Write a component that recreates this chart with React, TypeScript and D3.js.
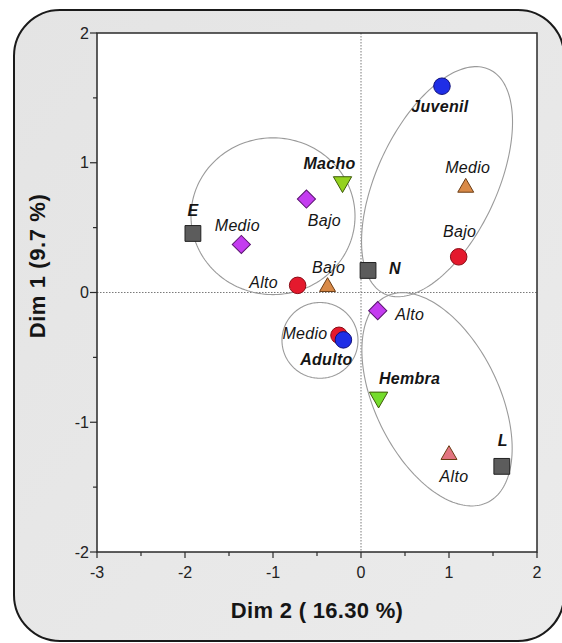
import React from 'react';
import * as d3 from 'd3';

const W = 562;
const H = 643;

// Modalities on the factorial plane (Dim 2 horizontal, Dim 1 vertical)
const names = ['Juvenil', 'Medio', 'Bajo', 'N', 'Macho', 'Bajo', 'E', 'Medio', 'Alto', 'Bajo', 'Alto', 'Hembra', 'Alto', 'L', 'Medio', 'Adulto'];
const dim2 = [0.92, 1.19, 1.11, 0.08, -0.21, -0.62, -1.91, -1.36, -0.72, -0.38, 0.19, 0.2, 1.0, 1.6, -0.25, -0.2];
const dim1 = [1.59, 0.82, 0.275, 0.17, 0.84, 0.72, 0.455, 0.37, 0.055, 0.055, -0.14, -0.82, -1.24, -1.34, -0.33, -0.365];
const groups = ['edad', 'nivelB', 'nivelA', 'zona', 'sexo', 'nivelC', 'zona', 'nivelC', 'nivelA', 'nivelB', 'nivelC', 'sexo', 'nivelB', 'zona', 'nivelA', 'edad'];

// Groupings drawn as ellipses: centre and two semi-axis vectors, in axis units
const ellCx = [-1.0, 0.864, 0.864, -0.466];
const ellCy = [0.588, 0.854, -0.823, -0.369];
const ellUx = [0.932, 0.595, 0.573, 0.432];
const ellUy = [0, 0.865, -0.795, 0];
const ellVx = [0, 0.618, -0.633, 0];
const ellVy = [0.604, -0.195, -0.209, 0.292];

// Axis ticks
const xTicks = [-3, -2, -1, 0, 1, 2];
const yTicks = [-2, -1, 0, 1, 2];

// Marker styling per group
const groupStyle: Record<string, { shape: string; fill: string; stroke: string; size: number; bold: boolean }> = {
  edad: { shape: 'circle', fill: '#1f2ee6', stroke: '#10107a', size: 215, bold: true },
  nivelA: { shape: 'circle', fill: '#e4192d', stroke: '#8a0d16', size: 215, bold: false },
  nivelB: { shape: 'triangle', fill: '#d98a48', stroke: '#6b3b12', size: 110, bold: false },
  nivelC: { shape: 'diamond', fill: '#c43cf0', stroke: '#5a1470', size: 165, bold: false },
  sexo: { shape: 'down', fill: '#94d21e', stroke: '#3d5a08', size: 145, bold: true },
  zona: { shape: 'square', fill: '#5c5c5c', stroke: '#222222', size: 250, bold: true },
};
const fillOverride: Record<number, string> = { 12: '#e27480', 11: '#74dc2c' };

// Label placement relative to each marker (px)
const labelDx = [-2, 2, 1, 27, -13, 18, 0, -4, -34, 1, 32, 31, 5, 1, -34, -17];
const labelDy = [20, -19, -25, -2, -20, 21, -23, -19, -3, -18, 4, -20, 23, -26, -2, 20];

const plot = { left: 97, right: 537, top: 33, bottom: 552 };

export default function App() {
  const x = d3.scaleLinear().domain([-3, 2]).range([plot.left, plot.right]);
  const y = d3.scaleLinear().domain([-2, 2]).range([plot.bottom, plot.top]);

  const xMinor = d3.range(-3, 2.001, 0.5).filter((v) => !xTicks.includes(v));
  const yMinor = d3.range(-2, 2.001, 0.5).filter((v) => !yTicks.includes(v));

  const line = d3
    .line<[number, number]>()
    .x((d) => x(d[0]))
    .y((d) => y(d[1]))
    .curve(d3.curveLinearClosed);
  const angles = d3.range(0, 360, 2).map((a) => (a * Math.PI) / 180);
  const ellipses = ellCx.map((cx, i) =>
    line(angles.map((t) => [cx + ellUx[i] * Math.cos(t) + ellVx[i] * Math.sin(t), ellCy[i] + ellUy[i] * Math.cos(t) + ellVy[i] * Math.sin(t)]))
  );

  const symbolPath = (shape: string, size: number) => {
    if (shape === 'circle') return d3.symbol(d3.symbolCircle, size)()!;
    if (shape === 'square' || shape === 'diamond') return d3.symbol(d3.symbolSquare, size)()!;
    return d3.symbol(d3.symbolTriangle, size)()!;
  };

  const font = "'Liberation Sans', Arial, sans-serif";

  return (
    <svg width={W} height={H} style={{ position: 'absolute', left: 0, top: 0 }} fontFamily={font}>
      <defs>
        <linearGradient id="frameBg" x1="0" y1="0" x2="1" y2="1">
          <stop offset="0" stopColor="#e4e4e4" />
          <stop offset="1" stopColor="#ebebeb" />
        </linearGradient>
      </defs>
      <rect x={0} y={0} width={W} height={H} fill="#ffffff" />
      <rect x={14} y={10} width={550} height={631} rx={46} ry={46} fill="url(#frameBg)" stroke="#1a1a1a" strokeWidth={2} />
      <rect x={plot.left} y={plot.top} width={plot.right - plot.left} height={plot.bottom - plot.top} fill="#ffffff" />

      {/* zero reference lines */}
      <line x1={x(0)} x2={x(0)} y1={plot.top} y2={plot.bottom} stroke="#7a7a7a" strokeWidth={1} strokeDasharray="1.5 1.5" />
      <line x1={plot.left} x2={plot.right} y1={y(0)} y2={y(0)} stroke="#7a7a7a" strokeWidth={1} strokeDasharray="1.5 1.5" />

      {ellipses.map((d, i) => (
        <path key={`e${i}`} d={d!} fill="none" stroke="#9a9a9a" strokeWidth={1.1} />
      ))}

      {names.map((n, i) => {
        const st = groupStyle[groups[i]];
        const px = x(dim2[i]);
        const py = y(dim1[i]);
        let rot = 0;
        if (st.shape === 'diamond') rot = 45;
        if (st.shape === 'down') rot = 180;
        const ty = st.shape === 'triangle' ? 1.5 : st.shape === 'down' ? -1.5 : 0;
        return (
          <path
            key={`m${i}`}
            d={symbolPath(st.shape, st.size)}
            transform={`translate(${px},${py + ty}) rotate(${rot})`}
            fill={fillOverride[i] ?? st.fill}
            stroke={st.stroke}
            strokeWidth={1}
          />
        );
      })}

      {names.map((n, i) => {
        const st = groupStyle[groups[i]];
        return (
          <text
            key={`l${i}`}
            x={x(dim2[i]) + labelDx[i]}
            y={y(dim1[i]) + labelDy[i]}
            dy="0.35em"
            textAnchor="middle"
            fontSize={16}
            fontStyle="italic"
            fontWeight={st.bold ? 'bold' : 'normal'}
            letterSpacing={0.3}
            fill="#151515"
          >
            {n}
          </text>
        );
      })}

      {/* plot box */}
      <rect x={plot.left} y={plot.top} width={plot.right - plot.left} height={plot.bottom - plot.top} fill="none" stroke="#2a2a2a" strokeWidth={1.5} />

      {/* x axis ticks */}
      {xTicks.map((v) => (
        <g key={`xt${v}`}>
          <line x1={x(v)} x2={x(v)} y1={plot.bottom} y2={plot.bottom + 6} stroke="#2a2a2a" strokeWidth={1.2} />
          <text x={x(v)} y={plot.bottom + 20} dy="0.35em" textAnchor="middle" fontSize={16} fill="#222">
            {v}
          </text>
        </g>
      ))}
      {xMinor.map((v) => (
        <line key={`xm${v}`} x1={x(v)} x2={x(v)} y1={plot.bottom} y2={plot.bottom + 4} stroke="#2a2a2a" strokeWidth={1.2} />
      ))}

      {/* y axis ticks */}
      {yTicks.map((v) => (
        <g key={`yt${v}`}>
          <line x1={plot.left - 7} x2={plot.left} y1={y(v)} y2={y(v)} stroke="#2a2a2a" strokeWidth={1.2} />
          <text x={plot.left - 8} y={y(v)} dy="0.35em" textAnchor="end" fontSize={16} fill="#222">
            {v}
          </text>
        </g>
      ))}
      {yMinor.map((v) => (
        <line key={`ym${v}`} x1={plot.left - 4} x2={plot.left} y1={y(v)} y2={y(v)} stroke="#2a2a2a" strokeWidth={1.2} />
      ))}

      <text x={(plot.left + plot.right) / 2} y={618} textAnchor="middle" fontSize={22} fontWeight="bold" letterSpacing={0.3} fill="#151515">
        Dim 2 ( 16.30 %)
      </text>
      <text
        transform={`translate(45, 266) rotate(-90)`}
        textAnchor="middle"
        fontSize={22}
        fontWeight="bold"
        letterSpacing={0.6}
        fill="#151515"
      >
        Dim 1 (9.7 %)
      </text>
    </svg>
  );
}
